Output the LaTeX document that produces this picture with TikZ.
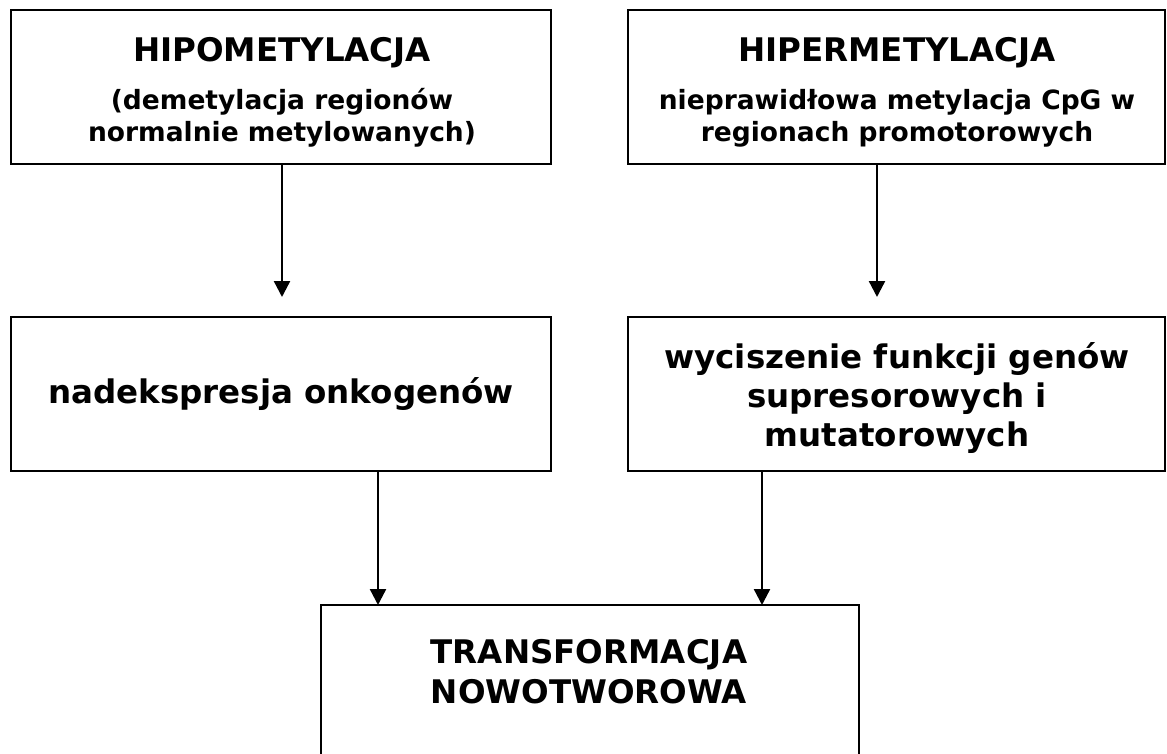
\documentclass[tikz,border=0pt]{standalone}
\usepackage{fontspec}
\setmainfont{DejaVu Sans}
\usetikzlibrary{arrows.meta}
\begin{document}
\begin{tikzpicture}[x=1pt,y=-1pt,
  box/.style={draw,line width=2.4pt,inner sep=0pt,outer sep=0pt,minimum height=154pt},
  big/.style={font=\fontsize{32.5}{39}\selectfont\bfseries,anchor=base,inner sep=0pt},
  small/.style={font=\fontsize{26.5}{32}\selectfont\bfseries,anchor=base,inner sep=0pt},
  arr/.style={line width=2.4pt,-{Triangle[length=16pt,width=16pt]}}]
\useasboundingbox (0,0) rectangle (1167,754);
\clip (0,0) rectangle (1167,754);
% boxes
\node[box,minimum width=540pt] (b1) at (281,87) {};
\node[box,minimum width=537pt] (b2) at (896.5,87) {};
\node[box,minimum width=540pt] (b3) at (281,394) {};
\node[box,minimum width=537pt] (b4) at (896.5,394) {};
\node[box,minimum width=538pt,minimum height=300pt] (b5) at (590,755) {};
% texts
\node[big] (t1a) at (282,62) {HIPOMETYLACJA};
\node[small] (t1b) at (282,110) {(demetylacja regionów};
\node[small] (t1c) at (282,142) {normalnie metylowanych)};
\node[big] (t2a) at (897,62) {HIPERMETYLACJA};
\node[small] (t2b) at (897,110) {nieprawidłowa metylacja CpG w};
\node[small] (t2c) at (897,142) {regionach promotorowych};
\node[big] (t3a) at (281,403) {nadekspresja onkogenów};
\node[big] (t4a) at (897,368) {wyciszenie funkcji genów};
\node[big] (t4b) at (897,407) {supresorowych i};
\node[big] (t4c) at (897,446) {mutatorowych};
\node[big] (t5a) at (589,663) {TRANSFORMACJA};
\node[big] (t5b) at (589,703) {NOWOTWOROWA};
% connector ends
\coordinate (e1) at (282,297);
\coordinate (e2) at (877,297);
\coordinate (c3) at (378,540);
\coordinate (c4) at (762,540);
\draw[arr] (b1.south -| e1) -- (e1);
\draw[arr] (b2.south -| e2) -- (e2);
\draw[arr] (b3.south -| c3) -- (b5.north -| c3);
\draw[arr] (b4.south -| c4) -- (b5.north -| c4);
\end{tikzpicture}
\end{document}
